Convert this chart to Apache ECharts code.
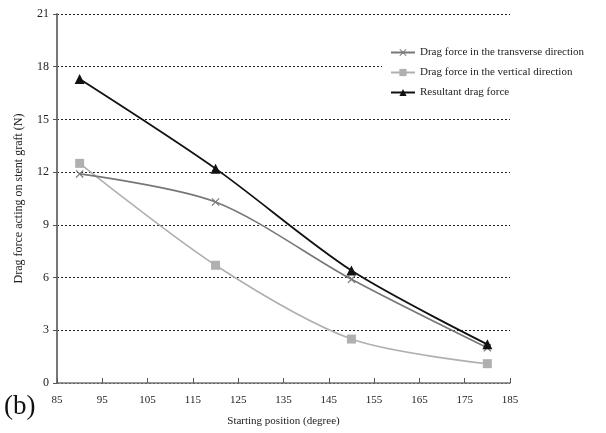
<!DOCTYPE html>
<html>
<head>
<meta charset="utf-8">
<script src="https://cdn.jsdelivr.net/npm/echarts@6/dist/echarts.min.js"></script>
<style>
  html, body { margin: 0; padding: 0; background: #fff; }
  #chart { width: 606px; height: 433px; }
</style>
</head>
<body>
<div id="chart"></div>
<script>
// tick labels on the x axis
var xTicks = ['85', '95', '105', '115', '125', '135', '145', '155', '165', '175', '185']
// starting positions (degree)
var positions = [90, 120, 150, 180]
// drag forces (N)
var transverse = [11.9, 10.3, 5.9, 2.0]
var vertical = [12.5, 6.7, 2.5, 1.1]
var resultant = [17.3, 12.2, 6.4, 2.2]

var seriesNames = [
  'Drag force in the transverse direction',
  'Drag force in the vertical direction',
  'Resultant drag force'
]

function pairs (vals) {
  return positions.map(function (p, i) { return [p, vals[i]] })
}

var font = 'Liberation Serif'
var crossPath = 'path://M1,0L5,4L9,0L10,1L6,5L10,9L9,10L5,6L1,10L0,9L4,5L0,1Z'

var myChart = echarts.init(document.getElementById('chart'))
var option = {
  backgroundColor: '#fff',
  animation: false,
  textStyle: { fontFamily: font },
  grid: { left: 57, right: 96, top: 14, bottom: 50 },
  legend: {
    orient: 'vertical',
    left: 382,
    top: 41,
    itemWidth: 24,
    itemHeight: 9,
    itemGap: 9,
    padding: [6, 8, 10, 8],
    backgroundColor: '#fff',
    textStyle: { fontFamily: font, fontSize: 11, color: '#222' },
    data: seriesNames
  },
  xAxis: [
    {
      type: 'category',
      data: xTicks,
      boundaryGap: false,
      name: 'Starting position (degree)',
      nameLocation: 'middle',
      nameGap: 33,
      nameTextStyle: { fontFamily: font, fontSize: 11, color: '#222' },
      axisLine: { lineStyle: { color: '#777', width: 1.5 } },
      axisTick: { inside: true, length: 5, lineStyle: { color: '#555' } },
      axisLabel: { fontFamily: font, fontSize: 11, color: '#222', margin: 12 },
      splitLine: { show: false }
    },
    {
      type: 'value',
      min: 85,
      max: 185,
      show: false,
      splitLine: { show: false }
    }
  ],
  yAxis: {
    type: 'value',
    min: 0,
    max: 21,
    interval: 3,
    name: 'Drag force acting on stent graft (N)',
    nameLocation: 'middle',
    nameGap: 32,
    nameTextStyle: { fontFamily: font, fontSize: 12, color: '#222' },
    axisLine: { show: true, lineStyle: { color: '#777', width: 2 } },
    axisTick: { show: true, length: 4, lineStyle: { color: '#555' } },
    axisLabel: { fontFamily: font, fontSize: 12, color: '#222', margin: 8 },
    splitLine: { lineStyle: { color: '#222', type: [2, 2], width: 1 } }
  },
  graphic: [
    {
      type: 'text',
      left: 4,
      top: 393,
      style: { text: '(b)', fontFamily: font, fontSize: 27, fill: '#111' }
    }
  ],
  series: [
    {
      name: seriesNames[0],
      type: 'line',
      xAxisIndex: 1,
      smooth: 0.3,
      data: pairs(transverse),
      symbol: crossPath,
      symbolSize: 8,
      lineStyle: { color: '#777', width: 1.6 },
      itemStyle: { color: '#777' },
      z: 3
    },
    {
      name: seriesNames[1],
      type: 'line',
      xAxisIndex: 1,
      smooth: 0.3,
      data: pairs(vertical),
      symbol: 'rect',
      symbolSize: 9,
      lineStyle: { color: '#b0b0b0', width: 1.6 },
      itemStyle: { color: '#b0b0b0' },
      z: 2
    },
    {
      name: seriesNames[2],
      type: 'line',
      xAxisIndex: 1,
      smooth: 0.3,
      data: pairs(resultant),
      symbol: 'triangle',
      symbolSize: 10,
      lineStyle: { color: '#111', width: 1.8 },
      itemStyle: { color: '#111' },
      z: 4
    }
  ]
}
myChart.setOption(option)
</script>
</body>
</html>
